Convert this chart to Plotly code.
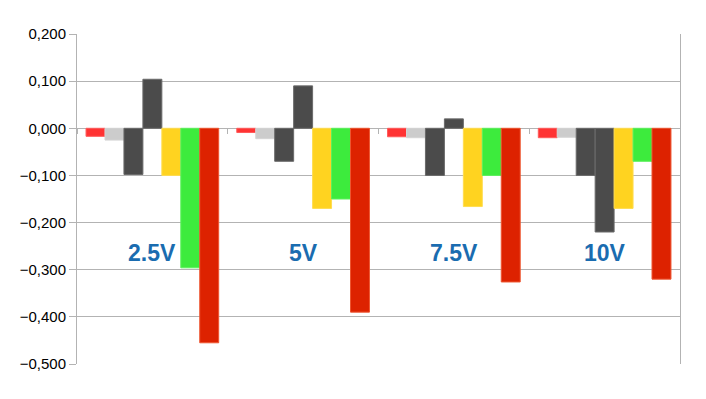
import plotly.graph_objects as go

categories = ["2.5V", "5V", "7.5V", "10V"]
series_names = ["S1", "S2", "S3", "S4", "S5", "S6", "S7"]
s1 = [-0.017, -0.009, -0.018, -0.020]
s2 = [-0.025, -0.022, -0.020, -0.019]
s3 = [-0.098, -0.070, -0.100, -0.100]
s4 = [0.104, 0.090, 0.020, -0.220]
s5 = [-0.100, -0.170, -0.166, -0.170]
s6 = [-0.296, -0.150, -0.100, -0.070]
s7 = [-0.455, -0.390, -0.326, -0.320]
y_ticks = [0.2, 0.1, 0.0, -0.1, -0.2, -0.3, -0.4, -0.5]

series = [s1, s2, s3, s4, s5, s6, s7]
colors = ["#ff3333", "#cccccc", "#4b4b4b", "#4b4b4b", "#ffd320", "#3deb3d", "#dd2200"]
edges = ["#ff5a5a", "#d4d4d4", "#6a6a6a", "#6a6a6a", "#ffdc50", "#5cf05c", "#ee5530"]

fig = go.Figure()
for name, vals, c, e in zip(series_names, series, colors, edges):
    fig.add_trace(go.Bar(x=categories, y=vals, name=name,
                         marker=dict(color=c, line=dict(color=e, width=1))))

for cat in categories:
    fig.add_annotation(x=cat, y=-0.265, text="<b>%s</b>" % cat, showarrow=False,
                       font=dict(family="Liberation Sans, Arial", size=23, color="#1a6cb0"))

# page body has an 8px default margin, so the figure is 8px smaller and margins shifted
fig.update_layout(
    width=698, height=391,
    margin=dict(l=67, r=26, t=26, b=35),
    paper_bgcolor="white", plot_bgcolor="white",
    barmode="group", bargap=0.12, bargroupgap=0,
    showlegend=False,
    separators=",.",
    font=dict(family="Liberation Sans, Arial", size=15, color="black"),
)
fig.update_yaxes(range=[-0.5, 0.2], tickvals=y_ticks, tickformat=".3f",
                 showgrid=True, gridcolor="#b3b3b3", gridwidth=1,
                 showline=True, linecolor="#b3b3b3", linewidth=1, mirror=True,
                 ticks="outside", ticklen=7, tickcolor="#b3b3b3",
                 zeroline=True, zerolinecolor="#b3b3b3", zerolinewidth=1)
fig.update_xaxes(showticklabels=False, showgrid=False, showline=False, zeroline=False,
                 anchor="free", position=5/7, ticks="outside", tickson="boundaries",
                 ticklen=5, tickcolor="#b3b3b3")

fig.write_html("out.html")
